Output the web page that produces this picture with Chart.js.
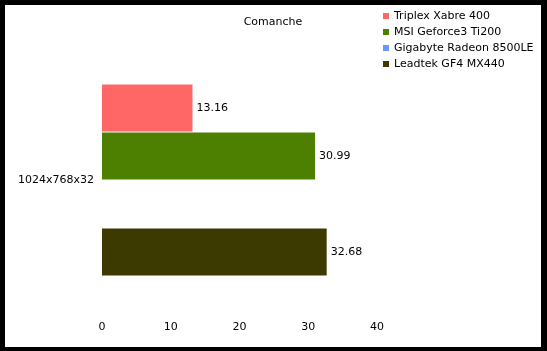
<!DOCTYPE html>
<html><head><meta charset="utf-8">
<script src="https://cdn.jsdelivr.net/npm/chart.js@4"></script>
<style>
html,body{margin:0;padding:0;background:#000;width:547px;height:351px;overflow:hidden}
#wrap{position:absolute;left:5px;top:5px;width:536px;height:342px;background:#fff}
</style></head>
<body><div id="wrap"><canvas id="c"></canvas></div>
<script>
const chartTitle = 'Comanche';
const categories = ['1024x768x32'];
const seriesNames = ['Triplex Xabre 400', 'MSI Geforce3 Ti200', 'Gigabyte Radeon 8500LE', 'Leadtek GF4 MX440'];
const triplexValues = [13.16];
const msiValues = [30.99];
const gigabyteValues = [null];
const leadtekValues = [32.68];
const xTickValues = [0, 10, 20, 30, 40];
const seriesColors = ['#ff6666', '#4d8000', '#6699ff', '#3c3a00'];
const seriesValues = [triplexValues, msiValues, gigabyteValues, leadtekValues];

const FONT = 'DejaVu Sans';

const valueLabels = {
  id: 'valueLabels',
  afterDatasetsDraw(chart) {
    const ctx = chart.ctx;
    ctx.save();
    ctx.font = '11px "' + FONT + '"';
    ctx.fillStyle = '#000';
    ctx.textBaseline = 'middle';
    ctx.textAlign = 'left';
    chart.data.datasets.forEach((ds, i) => {
      const meta = chart.getDatasetMeta(i);
      meta.data.forEach((el, j) => {
        const v = ds.data[j];
        if (v === null || v === undefined) return;
        ctx.fillText(v.toFixed(2), el.x + 4, el.y);
      });
    });
    ctx.restore();
  }
};

const titleAndLegend = {
  id: 'titleAndLegend',
  afterDraw(chart) {
    const ctx = chart.ctx;
    ctx.save();
    ctx.font = '11px "' + FONT + '"';
    ctx.textBaseline = 'middle';
    ctx.fillStyle = '#000';
    ctx.textAlign = 'center';
    ctx.fillText(chartTitle, chart.width / 2, 17);
    ctx.textAlign = 'left';
    chart.data.datasets.forEach((ds, i) => {
      const y = 11 + i * 15.9;
      ctx.fillStyle = ds.backgroundColor;
      ctx.fillRect(378, Math.round(y) - 3, 6, 6);
      ctx.fillStyle = '#000';
      ctx.fillText(ds.label, 389, y);
    });
    ctx.restore();
  }
};

new Chart(document.getElementById('c'), {
  type: 'bar',
  data: {
    labels: categories,
    datasets: seriesNames.map((name, i) => ({
      label: name,
      data: seriesValues[i],
      backgroundColor: seriesColors[i],
      borderWidth: 0,
      categoryPercentage: 0.738,
      barPercentage: 0.98
    }))
  },
  options: {
    indexAxis: 'y',
    responsive: true,
    maintainAspectRatio: false,
    animation: false,
    layout: { padding: { left: 12, right: 164, top: 45, bottom: 10 } },
    plugins: {
      legend: { display: false },
      tooltip: { enabled: false },
      title: { display: false }
    },
    scales: {
      x: {
        min: xTickValues[0],
        max: xTickValues[xTickValues.length - 1],
        afterBuildTicks(scale) { scale.ticks = xTickValues.map(v => ({ value: v })); },
        afterFit(scale) { scale.height = 27; },
        grid: { display: false },
        border: { display: false },
        ticks: { color: '#000', font: { family: FONT, size: 11 }, padding: 3 }
      },
      y: {
        afterFit(scale) { scale.width = 85; },
        grid: { display: false, drawTicks: false },
        border: { display: false },
        ticks: { color: '#000', font: { family: FONT, size: 11 }, padding: 8 }
      }
    }
  },
  plugins: [valueLabels, titleAndLegend]
});
</script>
</body></html>
